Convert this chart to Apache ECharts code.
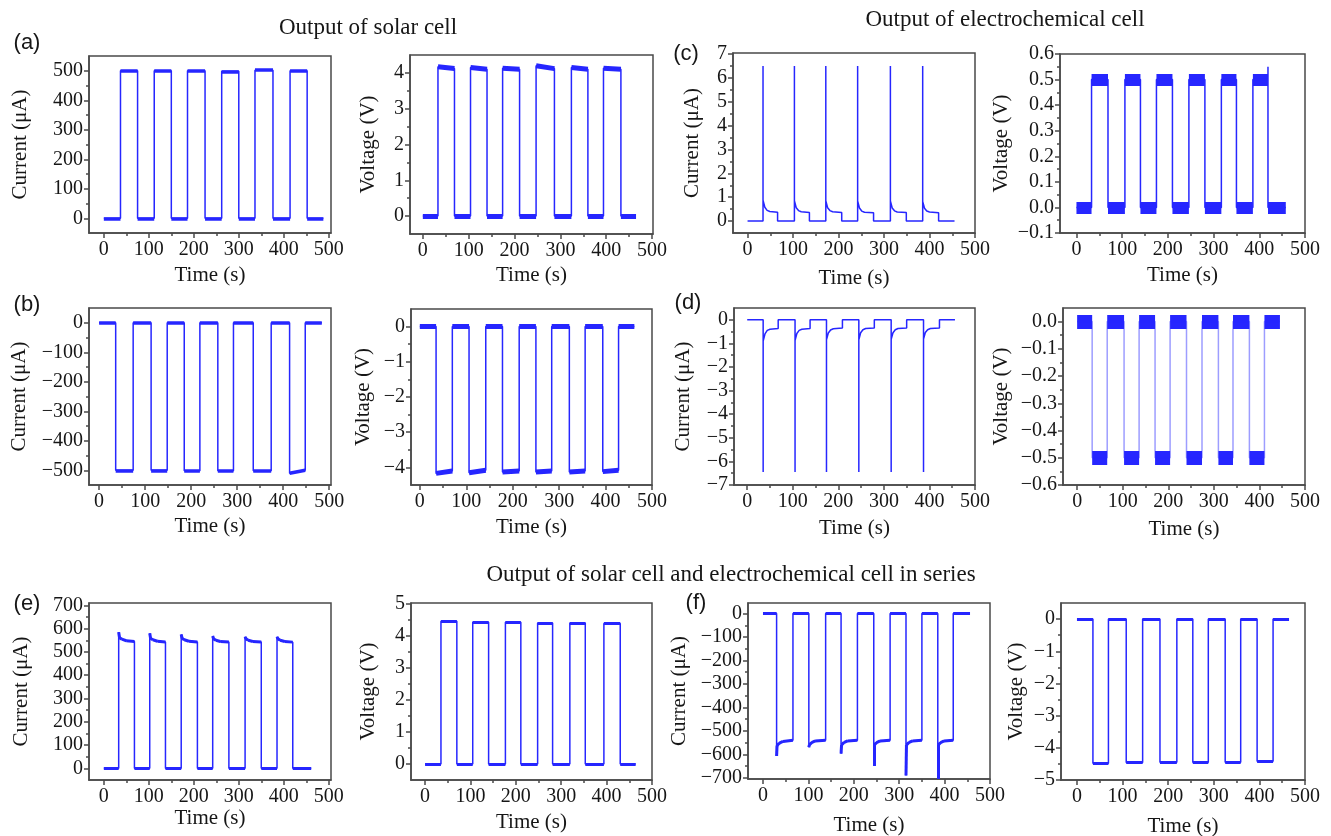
<!DOCTYPE html>
<html>
<head>
<meta charset="utf-8">
<script src="https://cdn.jsdelivr.net/npm/echarts@6/dist/echarts.min.js"></script>
<style>
  html, body { margin: 0; background: #fff; }
  #chart { width: 1331px; height: 836px; }
</style>
</head>
<body>
<div id="chart"></div>
<script>
// time axis, shared by every panel
const timeTicks = [0, 100, 200, 300, 400, 500];

// (a) solar cell
const aCurrent = [[0,0],[37,0],[37,500],[75,500],[75,0],[112,0],[112,500],[150,500],[150,0],[186,0],[186,500],[225,500],[225,0],[262,0],[262,498],[300,498],[300,0],[336,0],[336,502],[376,502],[376,0],[414,0],[414,500],[452,500],[452,0],[488,0]];
const aVoltage = [[0,0],[33,0],[33,4.17],[69,4.12],[69,0],[104,0],[104,4.15],[140,4.1],[140,0],[174,0],[174,4.13],[211,4.1],[211,0],[247,0],[247,4.2],[287,4.12],[287,0],[324,0],[324,4.15],[360,4.1],[360,0],[394,0],[394,4.13],[432,4.1],[432,0],[465,0]];
const aCurrentTicks = [0, 100, 200, 300, 400, 500];
const aVoltageTicks = [0, 1, 2, 3, 4];

// (b) solar cell, reversed
const bCurrent = [[0,0],[36,0],[36,-500],[74,-500],[74,0],[113,0],[113,-500],[148,-500],[148,0],[185,0],[185,-502],[219,-502],[219,0],[258,0],[258,-502],[292,-502],[292,0],[335,0],[335,-502],[374,-502],[374,0],[414,0],[414,-510],[448,-500],[448,0],[484,0]];
const bVoltage = [[0,0],[35,0],[35,-4.17],[70,-4.1],[70,0],[106,0],[106,-4.15],[142,-4.08],[142,0],[178,0],[178,-4.13],[214,-4.1],[214,0],[250,0],[250,-4.13],[284,-4.1],[284,0],[322,0],[322,-4.13],[356,-4.1],[356,0],[394,0],[394,-4.12],[428,-4.08],[428,0],[462,0]];
const bCurrentTicks = [-500, -400, -300, -200, -100, 0];
const bVoltageTicks = [-4, -3, -2, -1, 0];

// (c) electrochemical cell
const cCurrent = [[0,0],[34,0],[34,6.5],[34,0.88],[38,0.58],[43,0.45],[49,0.4],[66,0.37],[66,0],
  [103,0],[103,6.5],[103,0.85],[107,0.56],[112,0.44],[118,0.39],[136,0.36],[136,0],
  [172,0],[172,6.5],[172,0.85],[176,0.56],[181,0.44],[187,0.39],[207,0.36],[207,0],
  [242,0],[242,6.5],[242,0.85],[246,0.55],[251,0.42],[257,0.37],[277,0.35],[277,0],
  [314,0],[314,6.5],[314,0.85],[318,0.55],[323,0.43],[329,0.38],[349,0.36],[349,0],
  [385,0],[385,6.5],[385,0.82],[389,0.54],[394,0.42],[400,0.38],[420,0.35],[420,0],[455,0]];
const cVoltage = [[0,0],[33,0],[33,0.5],[69,0.5],[69,0],[106,0],[106,0.5],[140,0.5],[140,0],[175,0],[175,0.5],[210,0.5],[210,0],[246,0],[246,0.5],[281,0.5],[281,0],[317,0],[317,0.5],[350,0.5],[350,0],[386,0],[386,0.5],[419,0.5],[419,0.55],[419,0],[458,0]];
const cCurrentTicks = [0, 1, 2, 3, 4, 5, 6, 7];
const cVoltageTicks = [-0.1, 0, 0.1, 0.2, 0.3, 0.4, 0.5, 0.6];

// (d) electrochemical cell, reversed
const dCurrent = [[0,0],[35,0],[35,-6.45],[35,-0.9],[39,-0.6],[44,-0.45],[50,-0.4],[68,-0.37],[68,0],
  [105,0],[105,-6.45],[105,-0.88],[109,-0.58],[114,-0.45],[120,-0.4],[138,-0.37],[138,0],
  [174,0],[174,-6.45],[174,-0.85],[178,-0.56],[183,-0.43],[189,-0.38],[209,-0.35],[209,0],
  [245,0],[245,-6.45],[245,-0.85],[249,-0.55],[254,-0.42],[260,-0.37],[279,-0.35],[279,0],
  [316,0],[316,-6.45],[316,-0.83],[320,-0.55],[325,-0.42],[331,-0.37],[350,-0.35],[350,0],
  [387,0],[387,-6.45],[387,-0.82],[391,-0.54],[396,-0.42],[402,-0.37],[422,-0.35],[422,0],[456,0]];
const dVoltage = [[0,0],[33,0],[33,-0.5],[66,-0.5],[66,0],[103,0],[103,-0.5],[136,-0.5],[136,0],[171,0],[171,-0.5],[204,-0.5],[204,0],[240,0],[240,-0.5],[274,-0.5],[274,0],[310,0],[310,-0.5],[342,-0.5],[342,0],[378,0],[378,-0.5],[411,-0.5],[411,0],[445,0]];
const dCurrentTicks = [-7, -6, -5, -4, -3, -2, -1, 0];
const dVoltageTicks = [-0.6, -0.5, -0.4, -0.3, -0.2, -0.1, 0];

// (e) solar + electrochemical in series
const eCurrent = [[0,0],[33,0],[33,585],[35,560],[40,555],[50,548],[68,545],[68,0],
  [102,0],[102,580],[104,558],[109,552],[119,546],[137,543],[137,0],
  [172,0],[172,575],[174,558],[179,552],[189,546],[208,543],[208,0],
  [242,0],[242,568],[244,556],[249,550],[259,545],[278,543],[278,0],
  [314,0],[314,565],[316,556],[321,550],[331,545],[350,543],[350,0],
  [385,0],[385,565],[387,556],[392,550],[402,545],[420,542],[420,0],[461,0]];
const eVoltage = [[0,0],[35,0],[35,4.45],[70,4.45],[70,0],[105,0],[105,4.42],[140,4.42],[140,0],[177,0],[177,4.42],[211,4.42],[211,0],[248,0],[248,4.4],[281,4.4],[281,0],[319,0],[319,4.4],[353,4.4],[353,0],[394,0],[394,4.38],[430,4.38],[430,0],[464,0]];
const eCurrentTicks = [0, 100, 200, 300, 400, 500, 600, 700];
const eVoltageTicks = [0, 1, 2, 3, 4, 5];

// (f) series, reversed
const fCurrent = [[0,0],[30,0],[30,-607],[31,-562],[36,-552],[44,-545],[66,-540],[66,0],
  [101,0],[101,-570],[102,-560],[107,-550],[115,-543],[138,-540],[138,0],
  [172,0],[172,-597],[173,-560],[178,-550],[186,-543],[208,-540],[208,0],
  [244,0],[244,-650],[245,-560],[250,-550],[258,-543],[280,-540],[280,0],
  [315,0],[315,-690],[316,-560],[321,-550],[329,-543],[350,-540],[350,0],
  [385,0],[385,-705],[386,-560],[391,-550],[399,-543],[419,-540],[419,0],[456,0]];
const fVoltage = [[0,0],[35,0],[35,-4.48],[69,-4.48],[69,0],[108,0],[108,-4.46],[144,-4.46],[144,0],[182,0],[182,-4.45],[219,-4.45],[219,0],[254,0],[254,-4.45],[288,-4.45],[288,0],[325,0],[325,-4.45],[359,-4.45],[359,0],[395,0],[395,-4.42],[430,-4.42],[430,0],[465,0]];
const fCurrentTicks = [-700, -600, -500, -400, -300, -200, -100, 0];
const fVoltageTicks = [-5, -4, -3, -2, -1, 0];

const CUR = 'Current (\u03bcA)';
const VOLT = 'Voltage (V)';

// layout: grid [left, top, width, height], x range, y range, name gaps, band = noise thickness
const panels = [
  { data: aCurrent, ticks: aCurrentTicks, name: CUR,  grid: [89, 56, 242, 177],  x: [-33, 505], y: [-50, 550],   yGap: 58, xGap: 32, dec: 0, band: 3.5 },
  { data: aVoltage, ticks: aVoltageTicks, name: VOLT, grid: [410, 55, 243, 179], x: [-28, 502], y: [-0.5, 4.5],  yGap: 31, xGap: 31, dec: 0, band: 5 },
  { data: cCurrent, ticks: cCurrentTicks, name: CUR,  grid: [733, 53, 242, 180], x: [-32, 500], y: [-0.5, 7.05], yGap: 30, xGap: 35, dec: 0, band: 0 },
  { data: cVoltage, ticks: cVoltageTicks, name: VOLT, grid: [1060, 54, 245, 179], x: [-36, 500], y: [-0.1, 0.6], yGap: 48, xGap: 32, dec: 1, band: 12 },
  { data: bCurrent, ticks: bCurrentTicks, name: CUR,  grid: [89, 308, 242, 177], x: [-22, 504], y: [-550, 50],   yGap: 59, xGap: 31, dec: 0, band: 3.5 },
  { data: bVoltage, ticks: bVoltageTicks, name: VOLT, grid: [411, 309, 241, 176], x: [-19, 500], y: [-4.5, 0.5], yGap: 37, xGap: 32, dec: 0, band: 5 },
  { data: dCurrent, ticks: dCurrentTicks, name: CUR,  grid: [734, 308, 241, 177], x: [-29, 500], y: [-7, 0.5],   yGap: 40, xGap: 33, dec: 0, band: 0 },
  { data: dVoltage, ticks: dVoltageTicks, name: VOLT, grid: [1063, 308, 242, 177], x: [-31, 500], y: [-0.6, 0.05], yGap: 51, xGap: 34, dec: 1, band: 14, faint: true },
  { data: eCurrent, ticks: eCurrentTicks, name: CUR,  grid: [89, 603, 242, 177], x: [-33, 505], y: [-50, 710],   yGap: 57, xGap: 24, dec: 0, band: 3 },
  { data: eVoltage, ticks: eVoltageTicks, name: VOLT, grid: [411, 603, 241, 177], x: [-31, 500], y: [-0.5, 5.02], yGap: 32, xGap: 32, dec: 0, band: 3 },
  { data: fCurrent, ticks: fCurrentTicks, name: CUR,  grid: [748, 603, 242, 176], x: [-33, 500], y: [-705, 45],  yGap: 58, xGap: 36, dec: 0, band: 3 },
  { data: fVoltage, ticks: fVoltageTicks, name: VOLT, grid: [1061, 603, 244, 177], x: [-35, 500], y: [-5, 0.5],  yGap: 34, xGap: 36, dec: 0, band: 3 }
];

const AX = '#4a4a4a';
const BLUE = '#2626ff';
const SERIF = 'Liberation Serif';
const labelStyle = { fontFamily: SERIF, fontSize: 20, color: '#161616' };
const nameStyle = { fontFamily: SERIF, fontSize: 21, color: '#161616' };

// minor ticks halfway between majors, kept inside the axis range
function minors(ticks, lo, hi) {
  const step = ticks[1] - ticks[0];
  const out = [];
  for (let k = -20; k < 40; k++) {
    const v = ticks[0] + (k + 0.5) * step;
    if (v > lo + 1e-9 && v < hi - 1e-9) out.push(+v.toFixed(4));
  }
  return out;
}

function fmt(dec) {
  return v => (v < -1e-9 ? '\u2212' : '') + Math.abs(v).toFixed(dec);
}

// horizontal pieces of a trace, used to draw the noisy plateaus thicker
function plateaus(data) {
  const segs = [];
  for (let i = 1; i < data.length; i++) {
    if (data[i][0] > data[i - 1][0]) segs.push({ coords: [data[i - 1], data[i]] });
  }
  return segs;
}

const option = { animation: false, grid: [], xAxis: [], yAxis: [], series: [], graphic: [] };

panels.forEach((p, i) => {
  option.grid.push({
    left: p.grid[0], top: p.grid[1], width: p.grid[2], height: p.grid[3],
    show: true, borderColor: AX, borderWidth: 1.5, outerBoundsMode: 'none'
  });
  const line = { color: AX, width: 1.5 };
  // major x / y axes
  option.xAxis.push({
    gridIndex: i, type: 'value', position: 'bottom', min: p.x[0], max: p.x[1],
    name: 'Time (s)', nameLocation: 'middle', nameGap: p.xGap, nameTextStyle: nameStyle,
    axisLine: { show: true, onZero: false, lineStyle: line },
    axisTick: { show: true, customValues: timeTicks, length: 5, lineStyle: line },
    axisLabel: { customValues: timeTicks, margin: 7, ...labelStyle },
    splitLine: { show: false }
  });
  option.yAxis.push({
    gridIndex: i, type: 'value', position: 'left', min: p.y[0], max: p.y[1],
    name: p.name, nameLocation: 'middle', nameGap: p.yGap, nameTextStyle: nameStyle,
    axisLine: { show: true, onZero: false, lineStyle: line },
    axisTick: { show: true, customValues: p.ticks, length: 5, lineStyle: line },
    axisLabel: { customValues: p.ticks, margin: 6, formatter: fmt(p.dec), ...labelStyle },
    splitLine: { show: false }
  });
  // minor tick axes
  option.xAxis.push({
    gridIndex: i, type: 'value', position: 'bottom', offset: 0, min: p.x[0], max: p.x[1],
    axisLine: { show: false, onZero: false },
    axisTick: { show: true, customValues: minors(timeTicks, p.x[0], p.x[1]), length: 3, lineStyle: line },
    axisLabel: { show: false }, splitLine: { show: false }
  });
  option.yAxis.push({
    gridIndex: i, type: 'value', position: 'left', offset: 0, min: p.y[0], max: p.y[1],
    axisLine: { show: false, onZero: false },
    axisTick: { show: true, customValues: minors(p.ticks, p.y[0], p.y[1]), length: 3, lineStyle: line },
    axisLabel: { show: false }, splitLine: { show: false }
  });

  option.series.push({
    type: 'line', xAxisIndex: 2 * i, yAxisIndex: 2 * i, data: p.data,
    symbol: 'none', lineStyle: { color: BLUE, width: 1.5, opacity: p.faint ? 0.45 : 1 }
  });
  if (p.band > 0) {
    option.series.push({
      type: 'lines', coordinateSystem: 'cartesian2d', xAxisIndex: 2 * i, yAxisIndex: 2 * i,
      data: plateaus(p.data), silent: true,
      lineStyle: { color: BLUE, width: p.band, opacity: 1, cap: 'butt' }
    });
  }
});

const text = (x, y, s, font) => ({
  type: 'text', x, y,
  style: { text: s, font, fill: '#161616', align: 'center', verticalAlign: 'middle' }
});
const TITLE = '23px "Liberation Serif"';
const TAG = '22px "Liberation Sans"';
option.graphic = [
  text(368, 28, 'Output of solar cell', TITLE),
  text(1005, 20, 'Output of electrochemical cell', TITLE),
  text(731, 575, 'Output of solar cell and electrochemical cell in series', TITLE),
  text(27, 43, '(a)', TAG),
  text(27, 305, '(b)', TAG),
  text(686, 54, '(c)', TAG),
  text(688, 303, '(d)', TAG),
  text(27, 604, '(e)', TAG),
  text(696, 603, '(f)', TAG)
];

const chart = echarts.init(document.getElementById('chart'));
chart.setOption(option);
</script>
</body>
</html>
